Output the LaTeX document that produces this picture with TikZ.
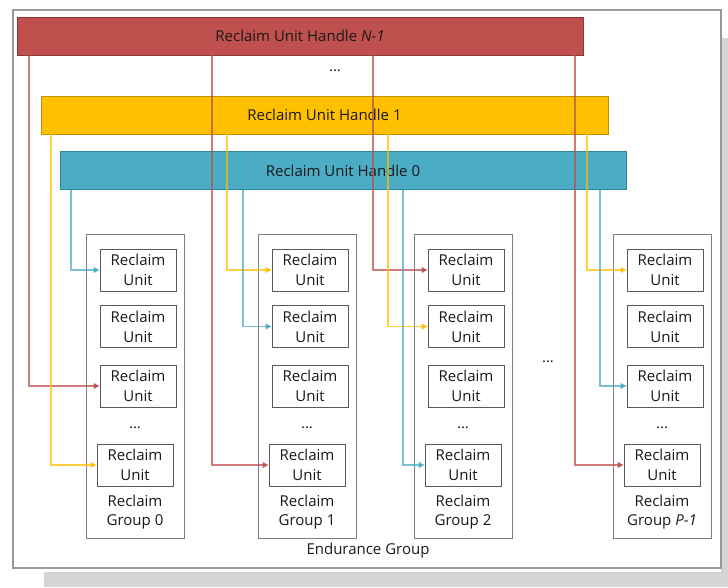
\documentclass[tikz,border=0pt]{standalone}
\usepackage{fontspec}
\setmainfont{Open Sans}
\usetikzlibrary{arrows.meta}
\definecolor{hred}{HTML}{C0504D}
\definecolor{hredd}{HTML}{8C3836}
\definecolor{hyel}{HTML}{FFC000}
\definecolor{hyeld}{HTML}{BF9000}
\definecolor{hblu}{HTML}{4BACC6}
\definecolor{hblud}{HTML}{31849B}
\definecolor{shadowgray}{HTML}{D5D5D5}
\begin{document}
\begin{tikzpicture}[x=1pt,y=-1pt,
  handle/.style={draw, line width=0.8pt, minimum width=566pt, minimum height=38pt, inner sep=0pt, font=\fontsize{15}{18}\selectfont, text=black!90},
  groupbox/.style={draw=black!50, line width=0.9pt, fill=white, minimum width=98pt, minimum height=304pt, inner sep=0pt},
  unitbox/.style={draw=black!65, line width=0.9pt, fill=white, minimum width=76pt, minimum height=42pt, inner sep=0pt, align=center, font=\fontsize{15}{20}\selectfont, text=black!90},
  lab/.style={align=center, inner sep=0pt, font=\fontsize{15}{19}\selectfont, text=black!90},
  dots/.style={inner sep=0pt, font=\fontsize{15}{18}\selectfont, text=black!90},
  link/.style={line width=1.2pt, draw opacity=0.75, -{Triangle[length=6pt,width=6pt]}},
  rlink/.style={link, draw=hred},
  ylink/.style={link, draw=hyel},
  blink/.style={link, draw=hblu}]
\useasboundingbox (0,0) rectangle (728,587);
\fill[white] (0,0) rectangle (728,587);
% shadow
\fill[shadowgray] (721,38) rectangle (728,587);
\fill[shadowgray] (44,572) rectangle (728,587);
% endurance group frame
\draw[black!40, line width=1.5pt, fill=white] (13,10) rectangle (721,568);
\node[lab] (eglab) at (368,551) {Endurance Group};
% handles
\node[handle, draw=hredd, fill=hred] (hN) at (300,36) {Reclaim Unit Handle \textit{N-1}};
\node[dots] (hdots) at (335,71) {...};
\node[handle, draw=hyeld, fill=hyel, minimum width=567pt] (h1) at (324.5,115) {Reclaim Unit Handle 1};
\node[handle, draw=hblud, fill=hblu] (h0) at (343,170.5) {Reclaim Unit Handle 0};
% groups
\foreach \gl/\g/\name in {86/0/0, 258/1/1, 414/2/2, 613/3/{\textit{P-1}}}{
  \node[groupbox] (g\g) at (\gl+49,386) {};
  \node[unitbox] (g\g u1) at (\gl+52,270) {Reclaim\\Unit};
  \node[unitbox] (g\g u2) at (\gl+52,326.5) {Reclaim\\Unit};
  \node[unitbox] (g\g u3) at (\gl+52,386) {Reclaim\\Unit};
  \node[dots] (g\g dots) at (\gl+49,428) {...};
  \node[unitbox] (g\g u4) at (\gl+49,465) {Reclaim\\Unit};
  \node[lab] (g\g lab) at (\gl+49,512) {Reclaim\\Group \name};
}
\node[dots] (gdots) at (548,362) {...};
% x positions of the vertical links
\coordinate (r0) at (29,0);  \coordinate (y0) at (51,0);  \coordinate (b0) at (71,0);
\coordinate (r1) at (212,0); \coordinate (y1) at (227,0); \coordinate (b1) at (243,0);
\coordinate (r2) at (373,0); \coordinate (y2) at (388,0); \coordinate (b2) at (403,0);
\coordinate (r3) at (575,0); \coordinate (y3) at (587,0); \coordinate (b3) at (600,0);
% links
\draw[rlink] (hN.south -| r0) |- (g0u3.west);
\draw[ylink] (h1.south -| y0) |- (g0u4.west);
\draw[blink] (h0.south -| b0) |- (g0u1.west);
\draw[rlink] (hN.south -| r1) |- (g1u4.west);
\draw[ylink] (h1.south -| y1) |- (g1u1.west);
\draw[blink] (h0.south -| b1) |- (g1u2.west);
\draw[rlink] (hN.south -| r2) |- (g2u1.west);
\draw[ylink] (h1.south -| y2) |- (g2u2.west);
\draw[blink] (h0.south -| b2) |- (g2u4.west);
\draw[rlink] (hN.south -| r3) |- (g3u4.west);
\draw[ylink] (h1.south -| y3) |- (g3u1.west);
\draw[blink] (h0.south -| b3) |- (g3u3.west);
\end{tikzpicture}
\end{document}
